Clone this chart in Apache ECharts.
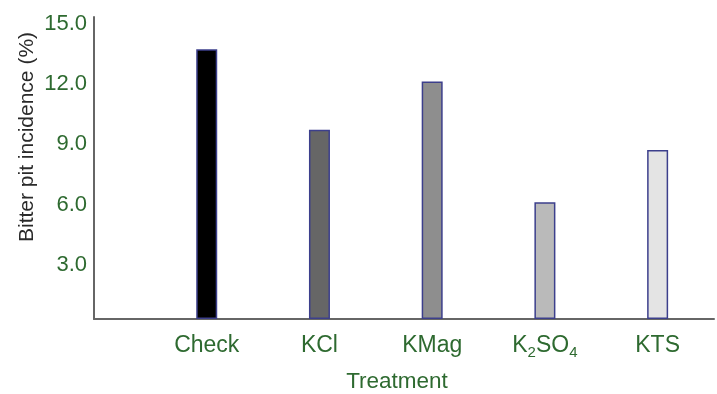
<!DOCTYPE html>
<html>
<head>
<meta charset="utf-8">
<script src="https://cdn.jsdelivr.net/npm/echarts@6/dist/echarts.min.js"></script>
<style>html,body{margin:0;padding:0;background:#fff}#c{width:717px;height:394px}</style>
</head>
<body>
<div id="c"></div>
<script>
const categories = ['Check', 'KCl', 'KMag', 'K2SO4', 'KTS'];
const categoryLabels = ['Check', 'KCl', 'KMag', 'K{sub|2}SO{sub|4}', 'KTS'];
const incidence = [13.4, 9.4, 11.8, 5.8, 8.4];
const barColors = ['#000000', '#666666', '#8e8e8e', '#bababa', '#e4e4e4'];
const yTicks = [0, 3, 6, 9, 12, 15];

const green = '#2e6a30';
const font = 'Liberation Sans, Arial, sans-serif';

const chart = echarts.init(document.getElementById('c'));
chart.setOption({
  animation: false,
  grid: { left: 94, right: 3, top: 17, bottom: 75, containLabel: false, outerBoundsMode: 'none' },
  xAxis: {
    type: 'value',
    min: 0, max: 5.5, interval: 1,
    name: 'Treatment',
    nameLocation: 'middle',
    nameGap: 52,
    nameMoveOverlap: false,
    nameTextStyle: { color: green, fontSize: 22.5, lineHeight: 22, fontFamily: font, padding: [0, 14, 0, 0] },
    axisLine: { show: true, lineStyle: { color: '#666', width: 2 } },
    axisTick: { show: false },
    splitLine: { show: false },
    axisLabel: {
      color: green, fontSize: 23, fontFamily: font, margin: 13, lineHeight: 28,
      formatter: v => {
        const i = v - 1;
        return Number.isInteger(i) && i >= 0 && i < categories.length ? categoryLabels[i] : '';
      },
      rich: {
        sub: { fontSize: 15, lineHeight: 15, verticalAlign: 'bottom', color: green, fontFamily: font }
      }
    }
  },
  yAxis: {
    type: 'value',
    min: yTicks[0], max: yTicks[yTicks.length - 1], interval: 3,
    name: 'Bitter pit incidence (%)',
    nameLocation: 'middle',
    nameGap: 56,
    nameMoveOverlap: false,
    nameTextStyle: { color: '#2a2a2a', fontSize: 21, fontFamily: font, padding: [0, 0, 0, 62] },
    axisLine: { show: true, lineStyle: { color: '#666', width: 2 } },
    axisTick: { show: false },
    splitLine: { show: false },
    axisLabel: {
      color: green, fontSize: 22, fontFamily: font, margin: 7,
      verticalAlign: 'top', lineHeight: 13,
      formatter: v => v === 0 ? '' : v.toFixed(1)
    }
  },
  series: [{
    type: 'bar',
    barWidth: 21,
    data: incidence.map((v, i) => ({
      value: [i + 1, v],
      itemStyle: { color: barColors[i], borderColor: '#3c3f8c', borderWidth: 1.5 }
    }))
  }]
});
</script>
</body>
</html>
